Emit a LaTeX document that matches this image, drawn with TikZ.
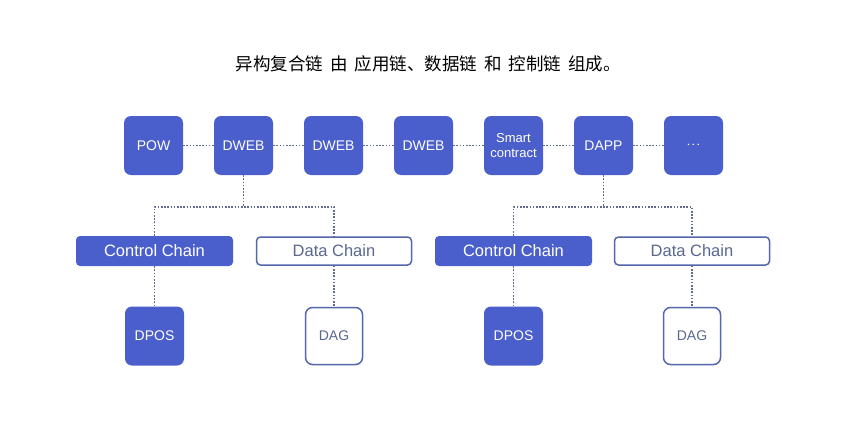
\documentclass[tikz,border=0pt]{standalone}
\usepackage{fontspec}
\setmainfont{Liberation Sans}
\newfontfamily\cjk{Noto Sans CJK SC}
\definecolor{bblue}{HTML}{4A5FCB}
\definecolor{bline}{HTML}{5566AA}
\definecolor{btext}{HTML}{5A6790}
\definecolor{dotc}{HTML}{5F6C90}
\newcommand{\tsp}{\hspace{7pt}}
\begin{document}
\begin{tikzpicture}[x=1pt,y=-1pt,
  sq/.style={draw=none,fill=bblue,rounded corners=7pt,minimum width=59pt,minimum height=59pt,inner sep=0pt,text=white,font=\fontsize{14}{15}\selectfont,align=center},
  sqo/.style={draw=bline,line width=1.5pt,fill=white,rounded corners=7pt,minimum width=57pt,minimum height=57pt,inner sep=0pt,text=btext,font=\fontsize{14}{15}\selectfont},
  chainf/.style={fill=bblue,rounded corners=4pt,minimum width=157pt,minimum height=30pt,inner sep=0pt,text=white,font=\fontsize{16.5}{17}\selectfont},
  chaino/.style={draw=bline,line width=1.5pt,fill=white,rounded corners=4pt,minimum width=155pt,minimum height=28pt,inner sep=0pt,text=btext,font=\fontsize{16.5}{17}\selectfont},
  dotl/.style={draw=dotc,line width=1.7pt,dash pattern=on 1.6pt off 1.6pt}]
\fill[white] (0,0) rectangle (856,436);
\node (title) at (428,64) {\cjk\fontsize{17.5}{19}\selectfont 异构复合链\tsp 由\tsp 应用链、数据链\tsp 和\tsp 控制链\tsp 组成。};
\node[sq] (pow) at (153.5,145.5) {POW};
\node[sq] (dweb1) at (243.5,145.5) {DWEB};
\node[sq] (dweb2) at (333.5,145.5) {DWEB};
\node[sq] (dweb3) at (423.5,145.5) {DWEB};
\node[sq,font=\fontsize{13}{15}\selectfont] (smart) at (513.5,145.5) {Smart\\contract};
\node[sq,font=\fontsize{15}{15}\selectfont] (more) at (693.5,145.5) {$\cdot\!\cdot\!\cdot$};
\node[sq] (dapp) at (603.5,145.5) {DAPP};
\draw[dotl] (pow) -- (dweb1);
\draw[dotl] (dweb1) -- (dweb2);
\draw[dotl] (dweb2) -- (dweb3);
\draw[dotl] (dweb3) -- (smart);
\draw[dotl] (smart) -- (dapp);
\draw[dotl] (dapp) -- (more);
\node[chainf] (cc1) at (154.5,251) {Control Chain};
\node[chaino] (dc1) at (334,251) {Data Chain};
\node[chainf] (cc2) at (513.5,251) {Control Chain};
\node[chaino] (dc2) at (692,251) {Data Chain};
\node[sq] (dpos1) at (154.5,336) {DPOS};
\node[sqo] (dag1) at (334,336) {DAG};
\node[sq] (dpos2) at (513.5,336) {DPOS};
\node[sqo] (dag2) at (692,336) {DAG};
\coordinate (j1) at (243.5,207);
\coordinate (j2) at (603.5,207);
\draw[dotl] (dweb1.south) -- (j1);
\draw[dotl] (cc1.north) |- (j1) -| (dc1.north);
\draw[dotl] (dapp.south) -- (j2);
\draw[dotl] (cc2.north) |- (j2) -| (dc2.north);
\draw[dotl] (cc1) -- (dpos1);
\draw[dotl] (dc1) -- (dag1);
\draw[dotl] (cc2) -- (dpos2);
\draw[dotl] (dc2) -- (dag2);
\end{tikzpicture}
\end{document}
